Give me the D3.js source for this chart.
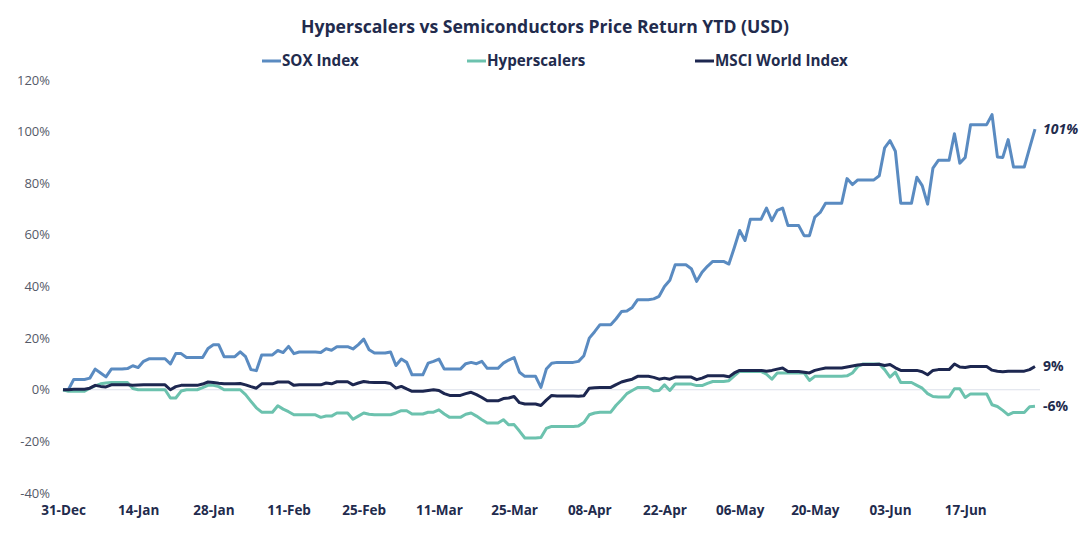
<!DOCTYPE html>
<html>
<head>
<meta charset="utf-8">
<script src="https://cdn.jsdelivr.net/npm/d3@7"></script>
<style>
  body { margin: 0; background: #fff; }
  svg { display: block; font-family: "Open Sans", sans-serif; }
</style>
</head>
<body>
<svg id="chart" width="1092" height="540"></svg>
<script>
// daily values, 31-Dec through 30-Jun (weekends/holidays carry the previous close)
const sox = [
  0, 0, 4, 4, 4, 4.5, 8,
  6.5, 5, 8, 8, 8, 8.2, 9.3,
  8.6, 11, 12, 12, 12, 12, 10,
  14, 14, 12.5, 12.5, 12.5, 12.5, 16,
  17.4, 17.4, 12.8, 12.8, 12.8, 14.7, 12.8,
  7.8, 7.4, 13.5, 13.5, 13.5, 15.2, 14.4,
  16.8, 14, 14.6, 14.6, 14.6, 14.6, 14.4,
  15.9, 15.3, 16.7, 16.7, 16.7, 15.8, 17.5,
  19.6, 15.5, 14.2, 14.2, 14.2, 14.6, 9.4,
  11.9, 10.6, 5.8, 5.8, 5.8, 10.3, 11,
  11.9, 8, 8, 8, 8, 10.1, 10.6,
  10.1, 11, 8.3, 8.3, 8.3, 10.3, 11.5,
  12.5, 6.8, 5.2, 5.2, 5.2, 0.9, 8,
  10.3, 10.6, 10.6, 10.6, 10.6, 11, 13.2,
  20, 22.5, 25.2, 25.2, 25.2, 27.5, 30.3,
  30.5, 31.9, 34.9, 34.9, 34.9, 35.2, 36.2,
  40, 42.4, 48.4, 48.4, 48.4, 46.9, 42,
  45.5, 47.8, 49.7, 49.7, 49.7, 48.7, 55,
  61.7, 57.8, 66.1, 66.1, 66.1, 70.4, 65.5,
  69.5, 70.4, 63.6, 63.6, 63.6, 59.7, 59.7,
  66.9, 68.7, 72.3, 72.3, 72.3, 72.3, 81.8,
  79.5, 81.3, 81.3, 81.3, 81.3, 82.9, 93.7,
  96.5, 92.4, 72.3, 72.3, 72.3, 82.3, 79.1,
  71.9, 85.9, 88.9, 88.9, 88.9, 99.2, 87.8,
  90, 102.7, 102.7, 102.7, 102.7, 106.6, 90.2,
  90, 96.9, 86.3, 86.3, 86.3, 93.7, 101
];

const hyperscalers = [
  0, -0.6, -0.6, -0.6, -0.6, 0.6, 1.5,
  2.3, 2.6, 2.8, 2.8, 2.8, 2.8, 0.5,
  0, 0, 0, 0, 0, 0, -3.2,
  -3.2, -0.5, 0, 0, 0, 0.8, 1.7,
  1.7, 1.2, 0, 0, 0, 0, -1.9,
  -4.5, -7, -8.7, -8.7, -8.7, -6.2, -7.5,
  -8.5, -9.7, -9.7, -9.7, -9.7, -9.7, -10.7,
  -10.2, -10.2, -9, -9, -9, -11.4, -10.2,
  -9, -9.5, -9.7, -9.7, -9.7, -9.7, -9,
  -8.1, -8.1, -9.4, -9.4, -9.4, -8.7, -8.7,
  -7.8, -9.4, -10.7, -10.7, -10.7, -9.5, -9,
  -10.2, -11.6, -12.9, -12.9, -12.9, -11.6, -13.6,
  -13.5, -16, -18.7, -18.7, -18.7, -18.5, -15,
  -14.2, -14.2, -14.2, -14.2, -14.2, -14, -12.7,
  -9.7, -9, -8.7, -8.7, -8.7, -6, -3.9,
  -1.5, -0.3, 0.9, 0.9, 0.9, -0.4, -0.3,
  1.9, -0.3, 2.2, 2.2, 2.2, 2.2, 1.6,
  1.6, 2.5, 3.2, 3.2, 3.2, 3.5, 5.4,
  7.1, 7.1, 7.1, 7.1, 7.1, 6, 4.1,
  6.5, 6.5, 6.5, 6.5, 6.5, 6.5, 3.6,
  5.2, 5.2, 5.2, 5.2, 5.2, 5.2, 5.4,
  6.5, 9, 10, 10, 10, 10, 7.8,
  4.9, 6.8, 2.8, 2.8, 2.8, 1.7, 0.6,
  -1.5, -2.6, -2.8, -2.8, -2.8, 0.4, 0.4,
  -3, -1.6, -1.6, -1.6, -1.6, -5.8, -6.5,
  -8, -9.7, -8.8, -8.8, -8.8, -6.6, -6.4
];

const msciWorld = [
  0, 0, 0.2, 0.2, 0.2, 0.6, 1.7,
  1.3, 1.1, 1.9, 1.9, 1.9, 1.9, 1.7,
  1.8, 1.9, 1.9, 1.9, 1.9, 1.9, 0,
  1.2, 1.7, 1.7, 1.7, 1.7, 2.2, 3,
  2.8, 2.5, 2.3, 2.3, 2.3, 2.4, 1.9,
  1.2, 0.6, 2.3, 2.3, 2.3, 3, 3,
  3, 1.7, 1.9, 1.9, 1.9, 1.9, 1.9,
  2.6, 2.3, 3.1, 3.1, 3.1, 1.9, 2.6,
  3.2, 2.9, 2.8, 2.8, 2.8, 2.4, 0.6,
  1.3, 0.3, -0.6, -0.6, -0.6, -0.3, 0,
  -0.3, -1.5, -2.2, -2.2, -2.2, -1.5, -1,
  -1.9, -3, -4.3, -4.3, -4.3, -3.4, -3.2,
  -2.6, -5, -5.5, -5.5, -5.5, -6.1, -4,
  -2.2, -2.4, -2.4, -2.4, -2.4, -2.5, -2.3,
  0.6, 0.8, 0.9, 0.9, 0.9, 2, 3,
  3.6, 4.1, 5.2, 5.2, 5.2, 4.8, 4.1,
  4.5, 4.1, 4.9, 4.9, 4.9, 4.9, 3.9,
  4.5, 5.4, 5.4, 5.4, 5.4, 5, 6.5,
  7.5, 7.5, 7.5, 7.5, 7.5, 7.2, 7.5,
  8, 8.4, 7.1, 7.1, 7.1, 6.8, 6.5,
  7.5, 8, 8.4, 8.4, 8.4, 8.4, 8.8,
  9.2, 9.6, 9.8, 9.8, 9.8, 9.9, 9.4,
  9.8, 8.5, 7.5, 7.5, 7.5, 7.5, 7,
  5.8, 7.5, 7.8, 7.8, 7.8, 10, 8.8,
  8.6, 9, 9, 9, 9, 7.6, 7.2,
  7, 7.2, 7.2, 7.2, 7.2, 7.8, 9
];

const dates = d3.timeDay.range(new Date(2025, 11, 31), new Date(2026, 6, 1));

const tickLabels = ["31-Dec", "14-Jan", "28-Jan", "11-Feb", "25-Feb", "11-Mar", "25-Mar",
  "08-Apr", "22-Apr", "06-May", "20-May", "03-Jun", "17-Jun"];
const yTicks = [-40, -20, 0, 20, 40, 60, 80, 100, 120];

const seriesNames = ["SOX Index", "Hyperscalers", "MSCI World Index"];
const endLabels = ["101%", "-6%", "9%"];

const colors = { sox: "#5a8bc1", hyper: "#6cc2ae", msci: "#1d2750" };
const textDark = "#222b4d";

const svg = d3.select("#chart");

const x = d3.scaleTime()
  .domain([dates[0], dates[dates.length - 1]])
  .range([63, 1035]);

const y = d3.scaleLinear()
  .domain([-40, 120])
  .range([493, 80]);

// title
svg.append("text")
  .attr("x", 545)
  .attr("y", 33)
  .attr("text-anchor", "middle")
  .attr("font-size", 17.6)
  .attr("font-weight", 700)
  .attr("fill", textDark)
  .text("Hyperscalers vs Semiconductors Price Return YTD (USD)");

// y labels (no axis line)
svg.append("g")
  .selectAll("text")
  .data(yTicks)
  .enter()
  .append("text")
  .attr("x", 50)
  .attr("y", d => y(d))
  .attr("dy", "0.35em")
  .attr("text-anchor", "end")
  .attr("font-size", 13)
  .attr("fill", "#555a68")
  .text(d => d + "%");

// zero line
svg.append("line")
  .attr("x1", x(dates[0]))
  .attr("x2", 1040)
  .attr("y1", y(0))
  .attr("y2", y(0))
  .attr("stroke", "#dde0ea")
  .attr("stroke-width", 1);

// x axis labels
const parseTick = d3.timeParse("%d-%b-%Y");
const xAxis = d3.axisBottom(x)
  .tickValues(tickLabels.map(t => parseTick(t + (t.endsWith("Dec") ? "-2025" : "-2026"))))
  .tickFormat(d3.timeFormat("%d-%b"))
  .tickSize(0)
  .tickPadding(0);

const gx = svg.append("g")
  .attr("transform", "translate(0,505)")
  .call(xAxis);
gx.select(".domain").remove();
gx.selectAll("text")
  .attr("font-family", "Open Sans, sans-serif")
  .attr("font-size", 13.5)
  .attr("font-weight", 700)
  .attr("fill", textDark);

// lines
const line = d3.line()
  .x((d, i) => x(dates[i]))
  .y(d => y(d));

const series = [
  { key: "sox", values: sox },
  { key: "hyper", values: hyperscalers },
  { key: "msci", values: msciWorld }
];

svg.append("g")
  .selectAll("path")
  .data(series)
  .enter()
  .append("path")
  .attr("d", d => line(d.values))
  .attr("fill", "none")
  .attr("stroke", d => colors[d.key])
  .attr("stroke-width", 3)
  .attr("stroke-linejoin", "round");

// end labels
series.forEach((s, i) => {
  const last = s.values[s.values.length - 1];
  svg.append("text")
    .attr("x", 1043)
    .attr("y", y(last))
    .attr("dy", "0.35em")
    .attr("font-size", 14)
    .attr("font-weight", 700)
    .attr("font-style", s.key === "sox" ? "italic" : "normal")
    .attr("fill", textDark)
    .text(endLabels[i]);
});

// legend
const legendX = [262, 467, 695];
const legend = svg.append("g")
  .selectAll("g")
  .data(series)
  .enter()
  .append("g")
  .attr("transform", (d, i) => `translate(${legendX[i]},61)`);

legend.append("line")
  .attr("x1", 0)
  .attr("x2", 19)
  .attr("stroke", d => colors[d.key])
  .attr("stroke-width", 3);

legend.append("text")
  .attr("x", 20)
  .attr("dy", "0.35em")
  .attr("font-size", 15.2)
  .attr("font-weight", 700)
  .attr("fill", textDark)
  .text((d, i) => seriesNames[i]);
</script>
</body>
</html>
